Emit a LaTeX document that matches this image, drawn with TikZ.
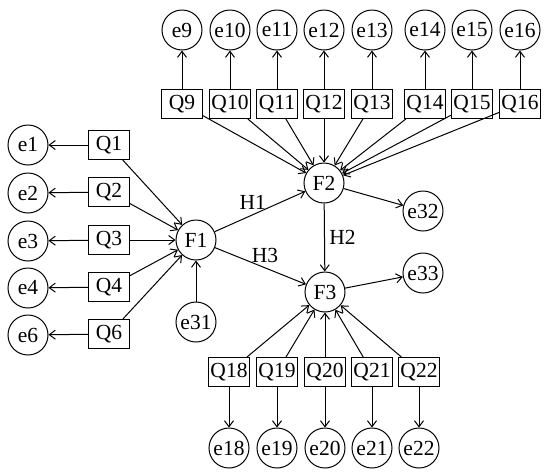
\documentclass[tikz,border=0pt]{standalone}
\usepackage{fontspec}
\setmainfont{Liberation Serif}
\usetikzlibrary{arrows.meta,positioning}

\begin{document}
\begin{tikzpicture}[x=1pt,y=-1pt,>={Straight Barb[length=6pt,width=9pt]}]
\tikzstyle{err}=[circle,draw,line width=1pt,minimum size=40pt,inner sep=0pt,font=\fontsize{21.5}{24}\selectfont]
\tikzstyle{item}=[rectangle,draw,line width=1pt,minimum width=41pt,minimum height=29pt,inner sep=1pt,font=\fontsize{21.5}{24}\selectfont]
\tikzstyle{link}=[->,line width=1pt]
\tikzstyle{hyp}=[font=\fontsize{21.5}{24}\selectfont]
\useasboundingbox (0,0) rectangle (550,475);
% latent factors
\node[err] (F1) at (196,240) {F1};
\node[err] (F2) at (324,183) {F2};
\node[err] (F3) at (325,292) {F3};
\node[err] (e31) at (196,322) {e31};
\node[err] (e32) at (423,211) {e32};
\node[err] (e33) at (423,273) {e33};
% F1 items
\node[item] (Q1) at (109,145) {Q1};
\node[item] (Q2) at (109,192) {Q2};
\node[item] (Q3) at (109,240) {Q3};
\node[item] (Q4) at (109,287) {Q4};
\node[item] (Q6) at (109,334) {Q6};
\node[err] (e1) at (28,145) {e1};
\node[err] (e2) at (28,193) {e2};
\node[err] (e3) at (28,241) {e3};
\node[err] (e4) at (28,288) {e4};
\node[err] (e6) at (28,335) {e6};
% F2 items
\node[item] (Q9) at (182,104) {Q9};
\node[item] (Q10) at (230,104) {Q10};
\node[item] (Q11) at (277,104) {Q11};
\node[item] (Q12) at (324,104) {Q12};
\node[item] (Q13) at (372,104) {Q13};
\node[item] (Q14) at (425,104) {Q14};
\node[item] (Q15) at (472,104) {Q15};
\node[item] (Q16) at (520,104) {Q16};
\node[err] (e9) at (182,30) {e9};
\node[err] (e10) at (230,30) {e10};
\node[err] (e11) at (277,30) {e11};
\node[err] (e12) at (324,30) {e12};
\node[err] (e13) at (372,30) {e13};
\node[err] (e14) at (425,30) {e14};
\node[err] (e15) at (472,30) {e15};
\node[err] (e16) at (520,30) {e16};
% F3 items
\node[item] (Q18) at (229,372) {Q18};
\node[item] (Q19) at (277,372) {Q19};
\node[item] (Q20) at (325,372) {Q20};
\node[item] (Q21) at (372,372) {Q21};
\node[item] (Q22) at (419,372) {Q22};
\node[err] (e18) at (229,448) {e18};
\node[err] (e19) at (277,448) {e19};
\node[err] (e20) at (325,448) {e20};
\node[err] (e21) at (372,448) {e21};
\node[err] (e22) at (419,448) {e22};
% structural paths
\draw[link] (F1) -- node[hyp,above,pos=0.42,yshift=1pt] {H1} (F2);
\draw[link] (F1) -- node[hyp,above,pos=0.55,yshift=1pt] {H3} (F3);
\draw[link] (F2) -- node[hyp,right,xshift=1pt] {H2} (F3);
\draw[link] (e31) -- (F1);
\draw[link] (F2) -- (e32);
\draw[link] (F3) -- (e33);
% F1 measurement
\draw[link] (Q1) -- (F1);
\draw[link] (Q2) -- (F1);
\draw[link] (Q3) -- (F1);
\draw[link] (Q4) -- (F1);
\draw[link] (Q6) -- (F1);
\draw[link] (Q1) -- (e1);
\draw[link] (Q2) -- (e2);
\draw[link] (Q3) -- (e3);
\draw[link] (Q4) -- (e4);
\draw[link] (Q6) -- (e6);
% F2 measurement
\draw[link] (Q9) -- (F2);
\draw[link] (Q10) -- (F2);
\draw[link] (Q11) -- (F2);
\draw[link] (Q12) -- (F2);
\draw[link] (Q13) -- (F2);
\draw[link] (Q14) -- (F2);
\draw[link] (Q15) -- (F2);
\draw[link] (Q16) -- (F2);
\draw[link] (Q9) -- (e9);
\draw[link] (Q10) -- (e10);
\draw[link] (Q11) -- (e11);
\draw[link] (Q12) -- (e12);
\draw[link] (Q13) -- (e13);
\draw[link] (Q14) -- (e14);
\draw[link] (Q15) -- (e15);
\draw[link] (Q16) -- (e16);
% F3 measurement
\draw[link] (Q18) -- (F3);
\draw[link] (Q19) -- (F3);
\draw[link] (Q20) -- (F3);
\draw[link] (Q21) -- (F3);
\draw[link] (Q22) -- (F3);
\draw[link] (Q18) -- (e18);
\draw[link] (Q19) -- (e19);
\draw[link] (Q20) -- (e20);
\draw[link] (Q21) -- (e21);
\draw[link] (Q22) -- (e22);
\end{tikzpicture}
\end{document}
